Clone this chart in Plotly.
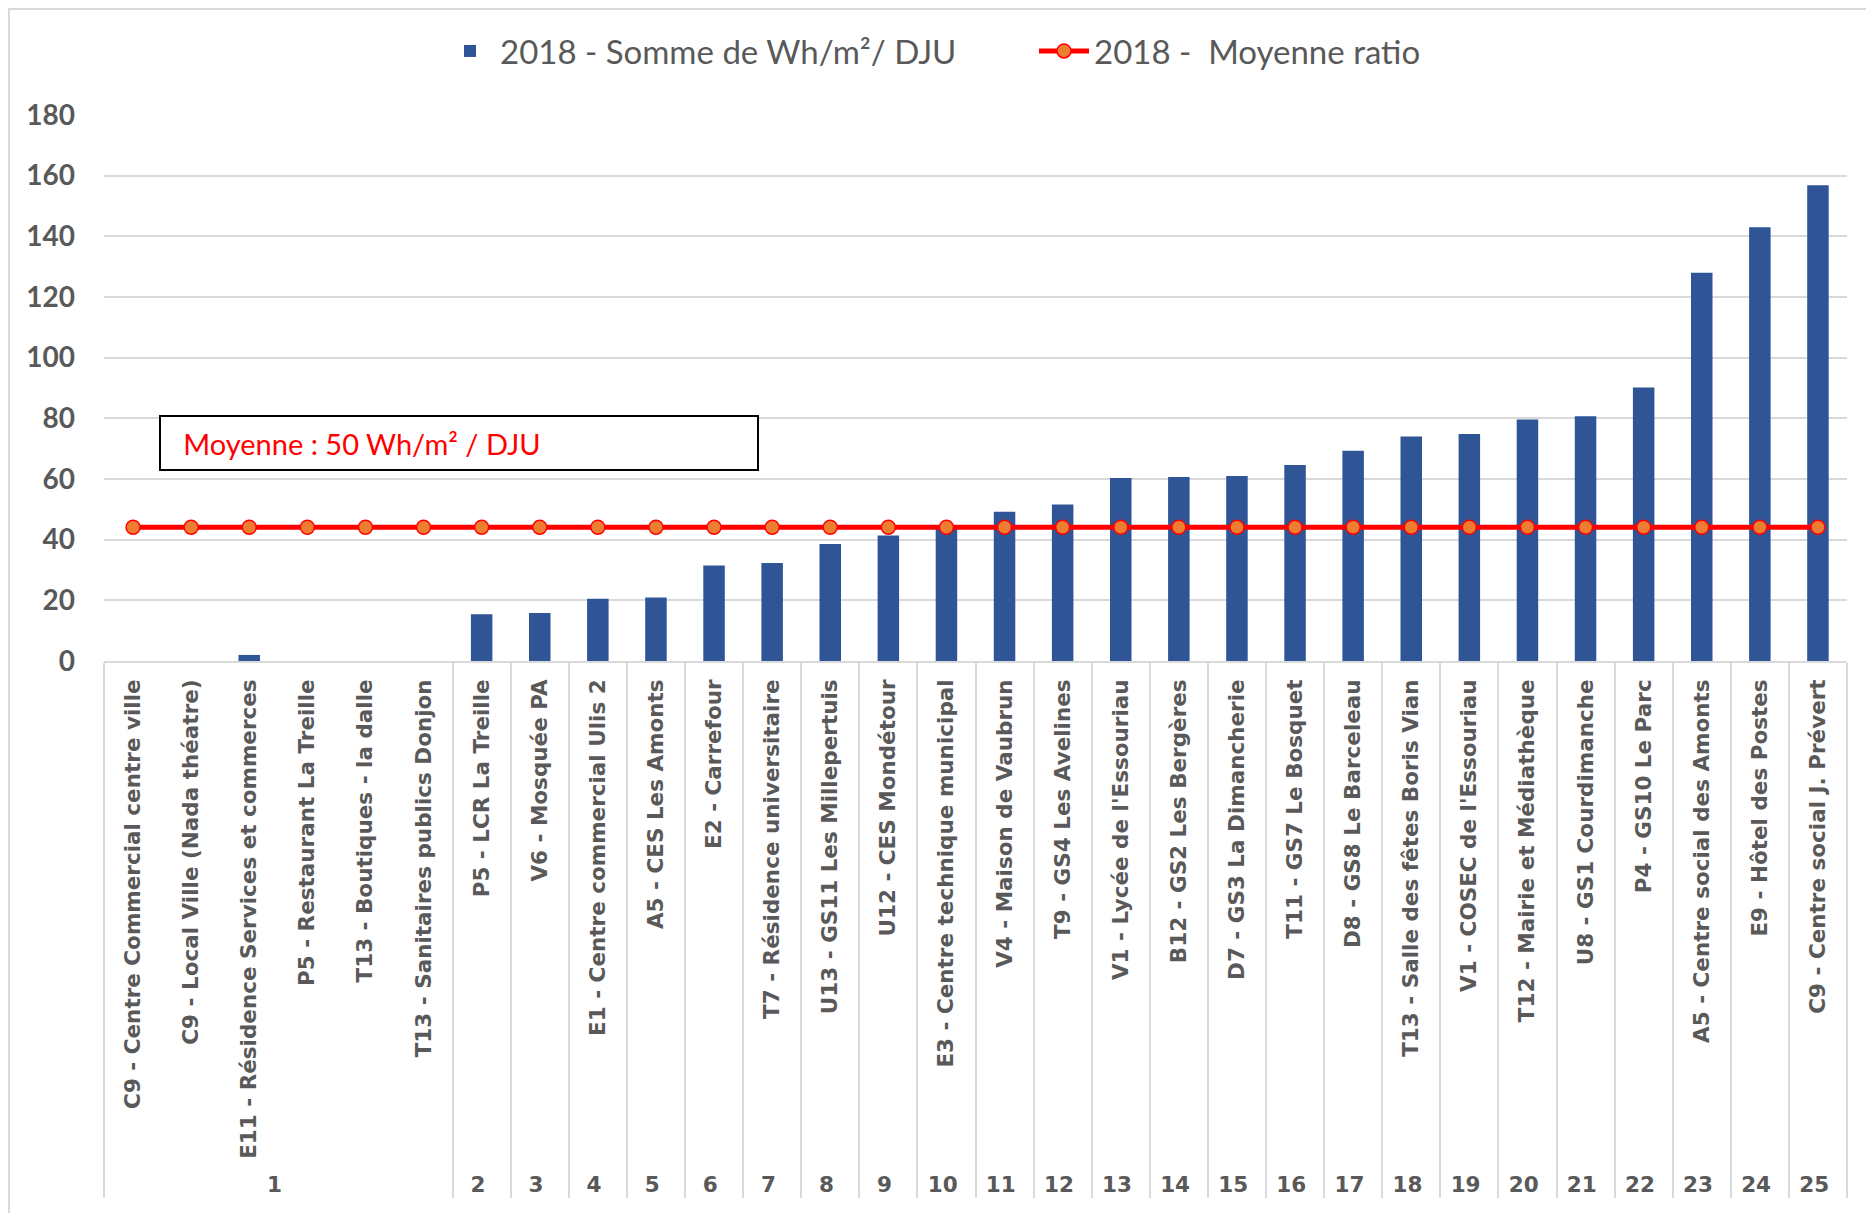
import plotly.graph_objects as go

groups = ["1", "1", "1", "1", "1", "1"] + [str(i) for i in range(2, 26)]
labels = [
    "C9 - Centre Commercial centre ville",
    "C9 - Local Ville (Nada théatre)",
    "E11 - Résidence Services et commerces",
    "P5 - Restaurant La Treille",
    "T13 - Boutiques - la dalle",
    "T13 - Sanitaires publics Donjon",
    "P5 - LCR La Treille",
    "V6 - Mosquée PA",
    "E1 - Centre commercial Ulis 2",
    "A5 - CES Les Amonts",
    "E2 - Carrefour",
    "T7 - Résidence universitaire",
    "U13 - GS11 Les Millepertuis",
    "U12 - CES Mondétour",
    "E3 - Centre technique municipal",
    "V4 - Maison de Vaubrun",
    "T9 - GS4 Les Avelines",
    "V1 - Lycée de l'Essouriau",
    "B12 - GS2 Les Bergères",
    "D7 - GS3 La Dimancherie",
    "T11 - GS7 Le Bosquet",
    "D8 - GS8 Le Barceleau",
    "T13 - Salle des fêtes Boris Vian",
    "V1 - COSEC de l'Essouriau",
    "T12 - Mairie et Médiathèque",
    "U8 - GS1 Courdimanche",
    "P4 - GS10 Le Parc",
    "A5 - Centre social des Amonts",
    "E9 - Hôtel des Postes",
    "C9 - Centre social J. Prévert",
]
somme = [0, 0, 2, 0, 0, 0, 15.4, 15.8, 20.5, 20.9, 31.5, 32.3, 38.6, 41.4, 44.3,
         49.2, 51.6, 60.3, 60.7, 61.0, 64.6, 69.3, 74.0, 74.8, 79.6, 80.7, 90.2,
         128.0, 143.0, 156.8]
moyenne = [44.1] * len(labels)

name_bar = "2018 - Somme de Wh/m²/ DJU"
name_line = "2018 -  Moyenne ratio"
annot_text = "\u00a0\u00a0\u00a0Moyenne : 50 Wh/m² / DJU"
yticks = [0, 20, 40, 60, 80, 100, 120, 140, 160, 180]

# page body has an 8px margin; figure coordinates are offset accordingly
OFF = 8
W, H = 1858, 1205
L, T = 104 - OFF, 115 - OFF
R = W - (1847 - OFF)
B = H - (661 - OFF)
PW, PH = W - L - R, H - T - B

fig = go.Figure()
fig.add_trace(go.Bar(
    x=[groups, labels], y=somme, name=name_bar,
    marker=dict(color="#2F5597", line=dict(width=0)),
))
fig.add_trace(go.Scatter(
    x=[groups, labels], y=moyenne, name=name_line, mode="lines+markers",
    line=dict(color="#FF0000", width=5),
    marker=dict(color="#ED7D31", size=14, line=dict(color="#FF0000", width=1.5)),
))

fig.update_layout(
    width=W, height=H,
    margin=dict(l=L, r=R, t=T, b=B, autoexpand=False),
    paper_bgcolor="white", plot_bgcolor="white",
    bargap=0.63,
    font=dict(family="Lato", color="#595959"),
    legend=dict(orientation="h", x=(440 - OFF - L) / PW, xanchor="left",
                y=1 + (T - (51 - OFF)) / PH, yanchor="middle",
                font=dict(size=33, family="Lato", color="#595959"),
                itemwidth=50, entrywidth=529, traceorder="normal"),
    showlegend=True,
)
fig.update_yaxes(
    range=[0, 180], tickvals=yticks, showgrid=True, gridcolor="#D9D9D9", gridwidth=1.5,
    zeroline=False, showline=False, automargin=False,
    tickfont=dict(size=28, family="Lato", color="#595959", weight="bold"),
    ticklabelstandoff=28,
)
fig.update_xaxes(
    type="multicategory", tickangle=-90, range=[-0.5, 29.5], automargin=False,
    tickfont=dict(size=21.5, family="DejaVu Sans", color="#595959", weight="bold"),
    ticklabelstandoff=8,
    showline=True, linecolor="#D9D9D9", linewidth=1.5,
    showdividers=True, dividercolor="#D9D9D9", dividerwidth=1.5,
    showgrid=False,
)

fig.add_annotation(
    xref="paper", yref="y", x=(159 - OFF - L) / PW, y=71.8, xanchor="left", yanchor="middle",
    text=annot_text, showarrow=False, align="left",
    font=dict(size=29, family="Lato", color="#FF0000"),
    bordercolor="black", borderwidth=2, width=596, height=52, borderpad=0,
    bgcolor="white",
)
# outer chart border (top and left visible)
fig.add_shape(type="rect", xref="paper", yref="paper",
              x0=(9 - OFF - L) / PW, x1=(1920 - L) / PW,
              y0=-(1260 - T - PH) / PH, y1=1 + (T - 1) / PH,
              line=dict(color="#D9D9D9", width=2), layer="below")

fig.write_html("out.html")
